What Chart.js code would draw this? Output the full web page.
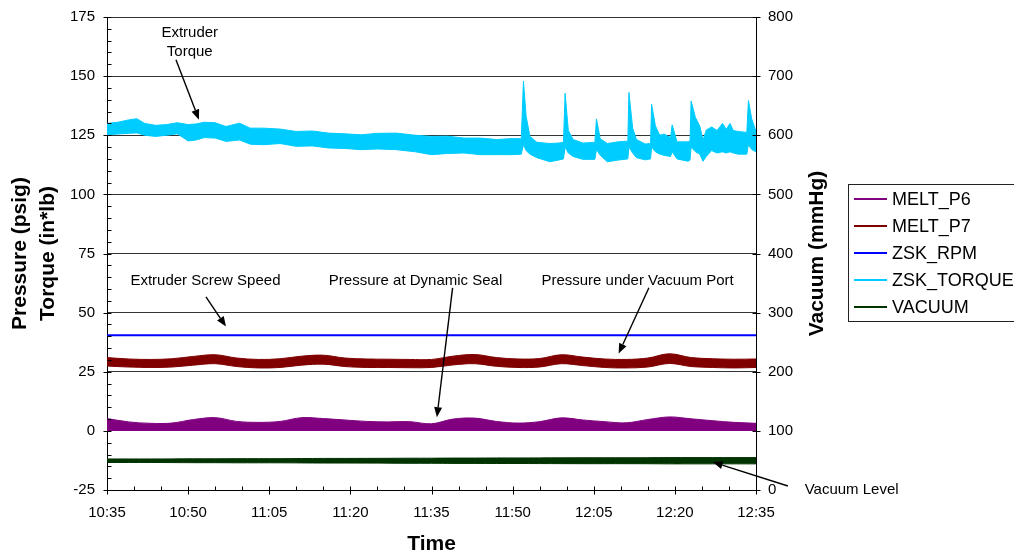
<!DOCTYPE html>
<html>
<head>
<meta charset="utf-8">
<script src="https://cdn.jsdelivr.net/npm/chart.js@4.4.1/dist/chart.umd.min.js"></script>
<style>
  html, body { margin: 0; padding: 0; background: #fff; }
  #wrap { width: 1014px; height: 555px; overflow: hidden; }
</style>
</head>
<body>
<div id="wrap"><canvas id="chart" width="1014" height="555"></canvas></div>
<script>
const FONT = "'Liberation Sans', Arial, sans-serif";

// x values are minutes after 10:35
const timeLabels = ['10:35', '10:50', '11:05', '11:20', '11:35', '11:50', '12:05', '12:20', '12:35'];
const sampleTimes = [0, 4, 8, 12, 16, 20, 24, 28, 32, 36, 40, 44, 48, 52, 56, 60, 64, 68, 72, 76, 80, 84, 88, 92, 96, 100, 104, 108, 112, 116, 120];

const meltP6Top = [5.2, 3.8, 3.2, 3.3, 4.8, 5.6, 4.0, 3.6, 4.0, 5.6, 5.2, 4.6, 4.0, 3.8, 3.9, 3.0, 5.0, 5.4, 4.0, 3.3, 3.9, 5.5, 4.6, 3.9, 3.4, 4.8, 5.9, 5.1, 4.3, 3.6, 3.2];
const meltP7Top = [31.0, 30.4, 30.2, 30.5, 31.5, 32.2, 30.8, 30.2, 30.5, 31.6, 32.0, 30.8, 30.4, 30.3, 30.2, 30.2, 31.6, 32.3, 31.0, 30.4, 30.6, 32.2, 31.2, 30.4, 30.2, 30.8, 32.6, 31.0, 30.5, 30.3, 30.4];
const meltP7Bottom = [27.4, 27.0, 26.8, 27.0, 27.8, 28.4, 27.2, 26.6, 26.8, 27.8, 28.2, 27.2, 26.8, 26.8, 26.7, 26.8, 27.9, 28.4, 27.3, 26.8, 27.0, 28.4, 27.6, 26.8, 26.6, 27.0, 28.5, 27.2, 26.8, 26.6, 26.8];
const rpmValues = [40.4, 40.4, 40.4, 40.4, 40.4, 40.4, 40.4, 40.4, 40.4, 40.4, 40.4, 40.4, 40.4, 40.4, 40.4, 40.4, 40.4, 40.4, 40.4, 40.4, 40.4, 40.4, 40.4, 40.4, 40.4, 40.4, 40.4, 40.4, 40.4, 40.4, 40.4];
const vacuumTop = [52.5, 52.5, 52.5, 52.6, 52.8, 52.8, 53.0, 53.0, 53.0, 53.2, 53.4, 53.4, 53.5, 53.6, 53.8, 53.8, 54.0, 54.0, 54.2, 54.2, 54.3, 54.4, 54.5, 54.5, 54.5, 54.6, 54.8, 54.8, 54.8, 54.8, 54.8];
const vacuumBottom = [46.5, 46.5, 46.5, 46.4, 46.2, 46.2, 46.0, 46.0, 46.0, 45.8, 45.6, 45.6, 45.5, 45.4, 45.2, 45.2, 45.0, 45.0, 44.8, 44.8, 44.7, 44.6, 44.5, 44.5, 44.5, 44.4, 44.2, 44.2, 44.2, 44.2, 44.2];

const torqueTimes = [0, 2, 4, 5.5, 7, 9, 11, 13, 15, 16.5, 18, 20, 22, 24.5, 26.5, 29, 32, 35, 38, 41, 44, 47, 50, 53.5, 57, 60, 63, 66, 69, 72, 75, 76.6, 77, 77.5, 78.2, 79.5, 81.9, 83.5, 84.4, 84.7, 85.3, 86.2, 88, 90.2, 90.5, 91.2, 92.5, 94.5, 96.3, 96.5, 97.2, 97.9, 99.5, 100.5, 100.7, 101.4, 102.2, 103, 104.2, 104.5, 105.4, 107.4, 107.8, 108, 108.8, 109.6, 110.2, 110.8, 111.8, 112.8, 113.8, 114.5, 115.2, 115.8, 116.7, 118.3, 118.6, 119.2, 120];
const torqueTop = [130, 130.5, 131.5, 132, 130, 129.2, 129.5, 130.3, 129.5, 129.8, 130.5, 130.3, 128.7, 130.1, 128, 128, 127.6, 126.6, 126.8, 125.9, 125.6, 125.2, 125.8, 125.9, 125, 124.5, 124.6, 123.8, 123.8, 123.2, 123.6, 123.5, 147.9, 133, 124.5, 122, 121.5, 121.7, 122, 142.7, 127, 123.2, 121.7, 122, 131.9, 123.5, 121.5, 122.2, 122.5, 143.1, 128, 123.2, 121.3, 121.5, 138.1, 129, 125, 125.5, 124, 129.4, 122.2, 122.2, 122.5, 139.5, 132.5, 128.9, 123, 127.2, 128.5, 127, 130, 127.5, 130, 127, 126.6, 126.2, 139.7, 132, 126.6];
const torqueBottom = [125.2, 125.5, 125.8, 126, 125, 124.5, 125, 125.6, 122.6, 123, 124, 123.8, 122.4, 123, 121.2, 121, 121.5, 120.3, 120.5, 119.6, 119.4, 118.9, 119.2, 118.9, 118, 116.8, 117.3, 117.5, 116.8, 116.8, 116.8, 117, 121, 118.5, 117, 115.5, 113.8, 114.5, 115, 120, 117.5, 116, 114.8, 114.8, 119, 116.5, 113.8, 114.5, 115, 120, 117.5, 115.5, 114.6, 115, 120, 118, 117, 116.5, 116, 118, 115, 114, 114.5, 120, 118, 117, 114, 116, 118.5, 117.5, 118, 117.5, 118, 117.5, 117, 117, 121, 119, 118];

const seriesNames = ['MELT_P6', 'MELT_P7', 'ZSK_RPM', 'ZSK_TORQUE', 'VACUUM'];
const seriesColors = ['#800080', '#800000', '#0000ff', '#00ccff', '#003300'];

// callouts, placed in data units (minutes, left axis)
const notes = [
  { text: ['Extruder', 'Torque'], at: [15.3, 168.3], clipBelow: 157.3, from: [12.75, 156.9], to: [17, 131.6] },
  { text: ['Extruder Screw Speed'], at: [18.2, 63.4], from: [18.3, 56.7], to: [22, 44.1] },
  { text: ['Pressure at Dynamic Seal'], at: [57.05, 63.4], from: [63.9, 60.5], to: [61, 5.8] },
  { text: ['Pressure under Vacuum Port'], at: [98.1, 63.4], from: [100.2, 60.5], to: [94.6, 32.7] },
  { text: ['Vacuum Level'], at: [129, -25], align: 'left', from: [125.9, -23.3], to: [112, -13.2] }
];

const toPoints = (xs, ys) => xs.map((x, i) => ({ x, y: ys[i] }));

const bandPair = (name, xs, top, bottom, color, axis, tension) => [
  { label: name, data: toPoints(xs, top), yAxisID: axis, borderColor: color, backgroundColor: color, borderWidth: 1, fill: '+1', tension },
  { label: name + ' low', data: toPoints(xs, bottom), yAxisID: axis, borderColor: color, backgroundColor: color, borderWidth: 1, fill: false, tension }
];

const drawArrow = (ctx, x0, y0, x1, y1) => {
  const ang = Math.atan2(y1 - y0, x1 - x0);
  const len = 10;
  const half = 4;
  const bx = x1 - len * Math.cos(ang);
  const by = y1 - len * Math.sin(ang);
  ctx.lineWidth = 1.4;
  ctx.beginPath();
  ctx.moveTo(x0, y0);
  ctx.lineTo(bx, by);
  ctx.stroke();
  ctx.beginPath();
  ctx.moveTo(x1, y1);
  ctx.lineTo(bx + half * Math.sin(ang), by - half * Math.cos(ang));
  ctx.lineTo(bx - half * Math.sin(ang), by + half * Math.cos(ang));
  ctx.closePath();
  ctx.fill();
};

const tickMarks = {
  id: 'tickMarks',
  afterDraw(chart) {
    const { ctx, chartArea, scales: { x, y, y2 } } = chart;
    const left = chartArea.left + 0.5;
    const right = chartArea.right + 0.5;
    const bottom = chartArea.bottom + 0.5;
    ctx.save();
    ctx.strokeStyle = '#000';
    ctx.lineWidth = 1;
    ctx.beginPath();
    for (let v = -25; v <= 175; v += 5) {
      const py = Math.round(y.getPixelForValue(v)) + 0.5;
      const major = v % 25 === 0;
      ctx.moveTo(left - (major ? 4 : 0), py);
      ctx.lineTo(left + 4, py);
    }
    for (let v = 0; v <= 800; v += 100) {
      const py = Math.round(y2.getPixelForValue(v)) + 0.5;
      ctx.moveTo(right - 4, py);
      ctx.lineTo(right + 4, py);
    }
    for (let t = 0; t <= 120; t += 5) {
      const px = Math.round(x.getPixelForValue(t)) + 0.5;
      const major = t % 15 === 0;
      ctx.moveTo(px, bottom - 4);
      ctx.lineTo(px, bottom + (major ? 4 : 0));
    }
    ctx.stroke();
    ctx.restore();
  }
};

const callouts = {
  id: 'callouts',
  afterDraw(chart) {
    const { ctx, scales: { x, y, y2 } } = chart;
    ctx.save();
    ctx.fillStyle = '#000';
    ctx.strokeStyle = '#000';
    ctx.font = `15px ${FONT}`;
    ctx.textBaseline = 'middle';
    notes.forEach((n) => {
      const px = x.getPixelForValue(n.at[0]);
      const py = y.getPixelForValue(n.at[1]);
      ctx.save();
      if (n.clipBelow !== undefined) {
        ctx.beginPath();
        ctx.rect(0, 0, chart.width, y.getPixelForValue(n.clipBelow));
        ctx.clip();
      }
      ctx.textAlign = n.align || 'center';
      n.text.forEach((line, i) => ctx.fillText(line, px, py + i * 19));
      ctx.restore();
      drawArrow(ctx, x.getPixelForValue(n.from[0]), y.getPixelForValue(n.from[1]),
        x.getPixelForValue(n.to[0]), y.getPixelForValue(n.to[1]));
    });

    // right axis title, reading bottom to top
    ctx.save();
    ctx.translate(y2.left + 61, (chart.chartArea.top + chart.chartArea.bottom) / 2);
    ctx.rotate(-Math.PI / 2);
    ctx.font = `bold 21px ${FONT}`;
    ctx.textAlign = 'center';
    ctx.fillText('Vacuum (mmHg)', 0, 0);
    ctx.restore();

    // legend box
    const lx = 848;
    const ly = 184;
    ctx.lineWidth = 1;
    ctx.strokeStyle = '#222';
    ctx.strokeRect(lx + 0.5, ly + 0.5, 180, 137);
    ctx.font = `18px ${FONT}`;
    ctx.textAlign = 'left';
    seriesNames.forEach((name, i) => {
      const rowY = ly + 15 + i * 27;
      ctx.strokeStyle = seriesColors[i];
      ctx.lineWidth = 2;
      ctx.beginPath();
      ctx.moveTo(lx + 6, rowY);
      ctx.lineTo(lx + 39, rowY);
      ctx.stroke();
      ctx.fillStyle = '#000';
      ctx.fillText(name, lx + 44, rowY + 1);
    });
    ctx.restore();
  }
};

Chart.defaults.font.family = FONT;
Chart.defaults.color = '#000';

const datasets = [
  ...bandPair('ZSK_TORQUE', torqueTimes, torqueTop, torqueBottom, seriesColors[3], 'y', 0),
  { label: 'ZSK_RPM', data: toPoints(sampleTimes, rpmValues), yAxisID: 'y', borderColor: seriesColors[2], borderWidth: 2, fill: false },
  ...bandPair('MELT_P7', sampleTimes, meltP7Top, meltP7Bottom, seriesColors[1], 'y', 0.35),
  { label: 'MELT_P6', data: toPoints(sampleTimes, meltP6Top), yAxisID: 'y', borderColor: seriesColors[0], backgroundColor: seriesColors[0], borderWidth: 1, fill: 'origin', tension: 0.35 },
  ...bandPair('VACUUM', sampleTimes, vacuumTop, vacuumBottom, seriesColors[4], 'y2', 0.35)
];

new Chart(document.getElementById('chart'), {
  type: 'line',
  data: { datasets },
  options: {
    responsive: false,
    animation: false,
    devicePixelRatio: 1,
    elements: { point: { radius: 0 } },
    layout: { padding: { top: 15, right: 178, bottom: 0, left: 0 } },
    plugins: {
      legend: { display: false },
      tooltip: { enabled: false }
    },
    scales: {
      x: {
        type: 'linear',
        min: 0,
        max: 120,
        afterFit: (s) => { s.height = 65; },
        ticks: { stepSize: 15, padding: 10, maxRotation: 0, font: { size: 15 }, color: '#000', callback: (v) => timeLabels[v / 15] },
        grid: { display: true, drawOnChartArea: false, drawTicks: true, tickLength: 4, tickColor: 'rgba(0,0,0,0)' },
        border: { display: true, color: '#000', width: 1 },
        title: { display: true, text: 'Time', color: '#000', font: { size: 21, weight: 'bold', lineHeight: 1.0 }, padding: { top: 0, bottom: 0 } }
      },
      y: {
        position: 'left',
        min: -25,
        max: 175,
        afterFit: (s) => { s.width = 107; },
        ticks: { stepSize: 25, padding: 8, font: { size: 15 }, color: '#000' },
        grid: { color: '#333', drawTicks: true, tickLength: 4, tickColor: 'rgba(0,0,0,0)' },
        border: { display: true, color: '#000', width: 1 },
        title: { display: true, text: ['Pressure (psig)', 'Torque (in*lb)'], color: '#000', font: { size: 21, weight: 'bold', lineHeight: 1.333 }, padding: { top: 6, bottom: 0 } }
      },
      y2: {
        position: 'right',
        min: 0,
        max: 800,
        afterFit: (s) => { s.width = 80; },
        ticks: { stepSize: 100, padding: 8, font: { size: 15 }, color: '#000' },
        grid: { drawOnChartArea: false, drawTicks: true, tickLength: 4, tickColor: 'rgba(0,0,0,0)' },
        border: { display: true, color: '#000', width: 1 }
      }
    }
  },
  plugins: [tickMarks, callouts]
});
</script>
</body>
</html>
